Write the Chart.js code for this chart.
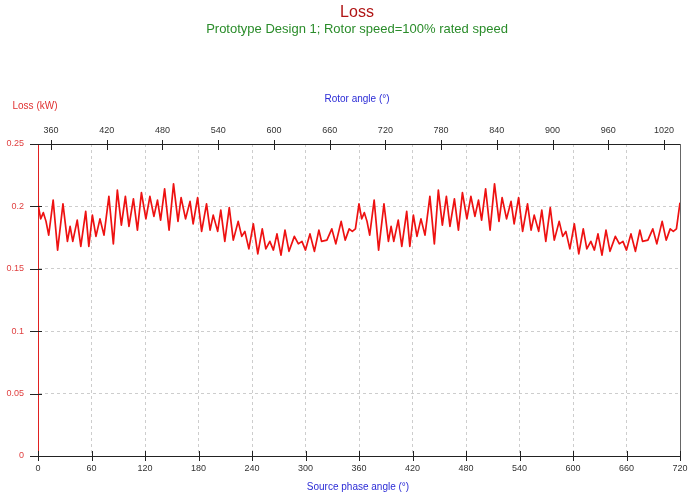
<!DOCTYPE html>
<html>
<head>
<meta charset="utf-8">
<script src="https://cdn.jsdelivr.net/npm/chart.js@4/dist/chart.umd.min.js"></script>
<style>
  html, body { margin: 0; background: #fff; }
  #wrap { width: 698px; height: 492px; }
</style>
</head>
<body>
<div id="wrap"><canvas id="lossChart"></canvas></div>
<script>
// Source phase angle (deg) and loss (kW), two electrical periods
const sourceAngle = [
  0, 3, 6, 9, 12, 17, 22, 28, 33, 36,
  39, 44, 48, 53.5, 57, 61, 65, 69.5, 74, 79.5,
  84.5, 89, 93.5, 98, 102, 107, 111.5, 116, 121, 125.5,
  130, 134, 137.5, 142, 147, 152, 157, 160.5, 165.5, 170.5,
  174, 179, 183.5, 189, 193, 196.5, 201.5, 205, 209.5, 214.5,
  219, 224.5, 228.5, 232, 236.5, 241.5, 246.5, 251.5, 255.5, 260,
  264, 268, 272.5, 277, 281.5, 287.5, 292, 296, 300, 305,
  310, 315, 318, 324, 329.5, 334, 340, 344.5, 349, 352.5,
  356,
  360, 363, 366, 369, 372, 377, 382, 388, 393, 396,
  399, 404, 408, 413.5, 417, 421, 425, 429.5, 434, 439.5,
  444.5, 449, 453.5, 458, 462, 467, 471.5, 476, 481, 485.5,
  490, 494, 497.5, 502, 507, 512, 517, 520.5, 525.5, 530.5,
  534, 539, 543.5, 549, 553, 556.5, 561.5, 565, 569.5, 574.5,
  579, 584.5, 588.5, 592, 596.5, 601.5, 606.5, 611.5, 615.5, 620,
  624, 628, 632.5, 637, 641.5, 647.5, 652, 656, 660, 665,
  670, 675, 678, 684, 689.5, 694, 700, 704.5, 709, 712.5,
  716, 720
];
const lossKw = [
  0.202, 0.190, 0.195, 0.188, 0.177, 0.205, 0.165, 0.202, 0.172, 0.184,
  0.172, 0.189, 0.168, 0.196, 0.168, 0.193, 0.176, 0.190, 0.177, 0.208,
  0.170, 0.213, 0.185, 0.208, 0.184, 0.206, 0.181, 0.211, 0.190, 0.208,
  0.192, 0.205, 0.189, 0.214, 0.181, 0.218, 0.188, 0.207, 0.190, 0.204,
  0.186, 0.207, 0.180, 0.202, 0.181, 0.193, 0.180, 0.197, 0.172, 0.199,
  0.173, 0.188, 0.176, 0.180, 0.166, 0.186, 0.162, 0.182, 0.166, 0.172,
  0.165, 0.178, 0.161, 0.181, 0.164, 0.176, 0.170, 0.172, 0.165, 0.178,
  0.164, 0.181, 0.172, 0.173, 0.182, 0.170, 0.188, 0.173, 0.182, 0.180,
  0.182,
  0.202, 0.190, 0.195, 0.188, 0.177, 0.205, 0.165, 0.202, 0.172, 0.184,
  0.172, 0.189, 0.168, 0.196, 0.168, 0.193, 0.176, 0.190, 0.177, 0.208,
  0.170, 0.213, 0.185, 0.208, 0.184, 0.206, 0.181, 0.211, 0.190, 0.208,
  0.192, 0.205, 0.189, 0.214, 0.181, 0.218, 0.188, 0.207, 0.190, 0.204,
  0.186, 0.207, 0.180, 0.202, 0.181, 0.193, 0.180, 0.197, 0.172, 0.199,
  0.173, 0.188, 0.176, 0.180, 0.166, 0.186, 0.162, 0.182, 0.166, 0.172,
  0.165, 0.178, 0.161, 0.181, 0.164, 0.176, 0.170, 0.172, 0.165, 0.178,
  0.164, 0.181, 0.172, 0.173, 0.182, 0.170, 0.188, 0.173, 0.182, 0.180,
  0.182, 0.203
];

const sourceTicks = [0, 60, 120, 180, 240, 300, 360, 420, 480, 540, 600, 660, 720];
const rotorTicks = [360, 420, 480, 540, 600, 660, 720, 780, 840, 900, 960, 1020];
const lossTicks = [0, 0.05, 0.1, 0.15, 0.2, 0.25];
const rotorRange = [346, 1037.2];

const FONT = 'Arial, "Liberation Sans", sans-serif';

// edge grid lines sit on the axes, so keep them hidden
const gridAt = (lo, hi) => c => (c.tick && (c.tick.value === lo || c.tick.value === hi)) ? 'rgba(0,0,0,0)' : '#cdcdcd';

// tick marks that cross the axes, right frame line and all captions
const axisDecor = {
  id: 'axisDecor',
  afterDraw(chart) {
    const { ctx, chartArea: a, scales } = chart;
    const seg = (x1, y1, x2, y2) => { ctx.beginPath(); ctx.moveTo(x1, y1); ctx.lineTo(x2, y2); ctx.stroke(); };
    ctx.save();
    ctx.lineWidth = 1;
    ctx.strokeStyle = '#666';
    seg(a.right + 0.5, a.top, a.right + 0.5, a.bottom);

    ctx.strokeStyle = '#222';
    scales.x.ticks.forEach(t => {
      const px = Math.round(scales.x.getPixelForValue(t.value)) + 0.5;
      seg(px, a.bottom - 5, px, a.bottom + 5);
    });
    scales.x2.ticks.forEach(t => {
      const px = Math.round(scales.x2.getPixelForValue(t.value)) + 0.5;
      seg(px, a.top - 4, px, a.top + 6);
    });
    scales.y.ticks.forEach(t => {
      const py = Math.round(scales.y.getPixelForValue(t.value)) + 0.5;
      seg(a.left - 8, py, a.left + 4, py);
    });

    ctx.textAlign = 'center';
    ctx.textBaseline = 'middle';
    const cx = (a.left + a.right) / 2 - 2;
    ctx.font = '16px ' + FONT;
    ctx.fillStyle = '#b01515';
    ctx.fillText('Loss', cx, 13);
    ctx.font = '13px ' + FONT;
    ctx.fillStyle = '#2a8c2a';
    ctx.fillText('Prototype Design 1; Rotor speed=100% rated speed', cx, 29);
    ctx.font = '10px ' + FONT;
    ctx.fillStyle = '#2b2bd6';
    ctx.fillText('Rotor angle (°)', cx, 99);
    ctx.fillText('Source phase angle (°)', cx + 1, 487);
    ctx.fillStyle = '#e03030';
    ctx.fillText('Loss (kW)', 35, 106);
    ctx.restore();
  }
};

const tickFont = { family: FONT, size: 9 };

new Chart(document.getElementById('lossChart'), {
  type: 'line',
  data: {
    datasets: [{
      label: 'Loss',
      data: sourceAngle.map((a, i) => ({ x: a, y: lossKw[i] })),
      borderColor: '#ee1111',
      borderWidth: 1.7,
      borderJoinStyle: 'round',
      pointRadius: 0,
      tension: 0
    }]
  },
  options: {
    responsive: true,
    maintainAspectRatio: false,
    devicePixelRatio: 1,
    animation: false,
    layout: { padding: { left: 0, right: 18, top: 0, bottom: 0 } },
    plugins: { legend: { display: false }, tooltip: { enabled: false } },
    scales: {
      x: {
        type: 'linear',
        position: 'bottom',
        min: 0,
        max: 720,
        afterBuildTicks: s => { s.ticks = sourceTicks.map(v => ({ value: v })); },
        afterFit: s => { s.height = 36; },
        grid: { color: gridAt(0, 720), drawTicks: false },
        border: { color: '#222', dash: [3, 3] },
        ticks: { color: '#333', font: tickFont, padding: 7, maxRotation: 0, autoSkip: false, callback: v => String(v) }
      },
      x2: {
        type: 'linear',
        position: 'top',
        min: rotorRange[0],
        max: rotorRange[1],
        afterBuildTicks: s => { s.ticks = rotorTicks.map(v => ({ value: v })); },
        afterFit: s => { s.height = 144; },
        grid: { display: false, drawTicks: false },
        border: { color: '#222' },
        ticks: { color: '#333', font: tickFont, padding: 8, maxRotation: 0, autoSkip: false, callback: v => String(v) }
      },
      y: {
        min: 0,
        max: 0.25,
        afterBuildTicks: s => { s.ticks = lossTicks.map(v => ({ value: v })); },
        afterFit: s => { s.width = 38; },
        grid: { color: gridAt(0, 0.25), drawTicks: false },
        border: { color: '#e02020', dash: [3, 3] },
        ticks: { color: '#e04040', font: tickFont, padding: 14, callback: v => String(v) }
      }
    }
  },
  plugins: [axisDecor]
});
</script>
</body>
</html>
